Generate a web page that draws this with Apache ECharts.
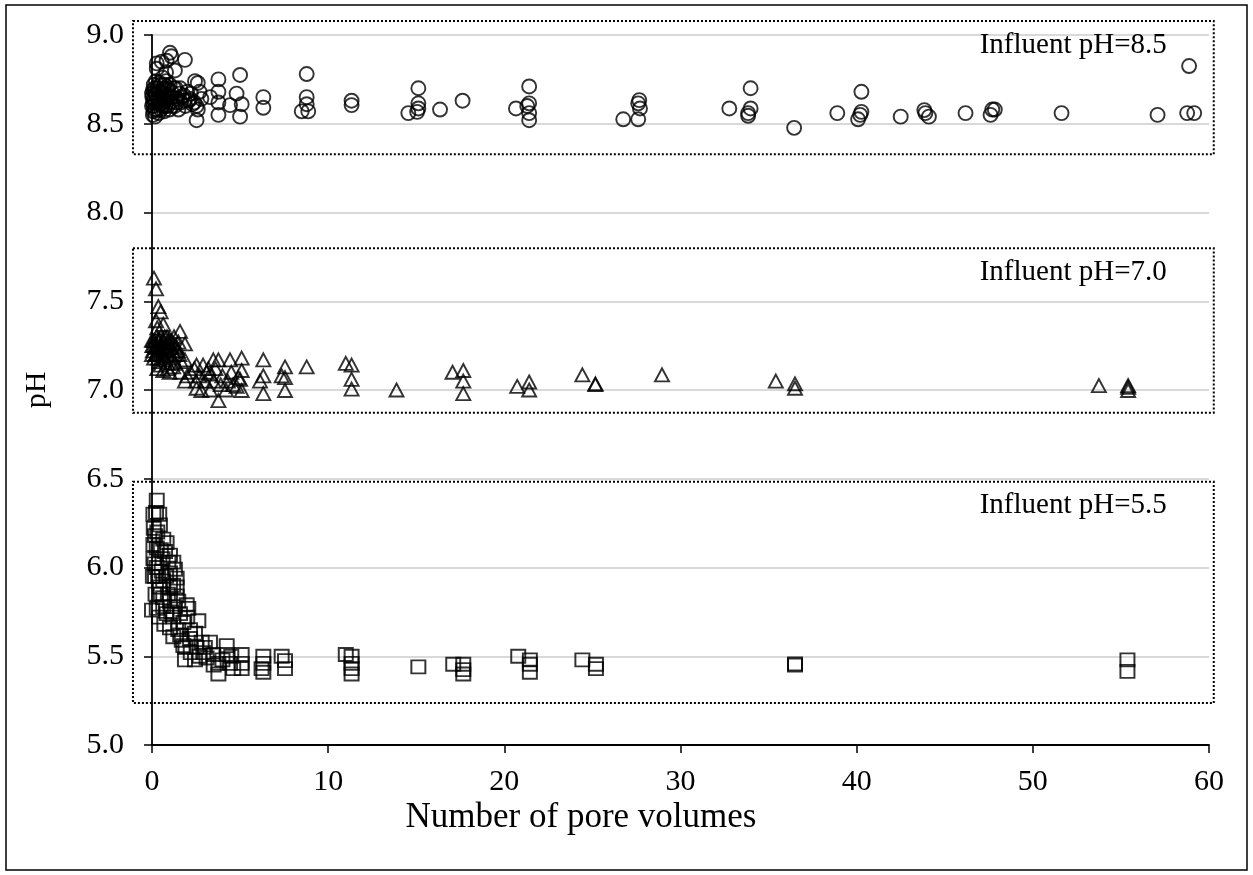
<!DOCTYPE html>
<html>
<head>
<meta charset="utf-8">
<script src="https://cdn.jsdelivr.net/npm/echarts@6/dist/echarts.min.js"></script>
<style>
  html, body { margin: 0; padding: 0; background: #fff; }
  #chart { width: 1253px; height: 875px; }
</style>
</head>
<body>
<div id="chart"></div>
<script>
// Effluent pH versus number of pore volumes, one series per influent pH.
const yTicks = ['5.0', '5.5', '6.0', '6.5', '7.0', '7.5', '8.0', '8.5', '9.0'];
const xTicks = ['0', '10', '20', '30', '40', '50', '60'];
const seriesNames = ['Influent pH=8.5', 'Influent pH=7.0', 'Influent pH=5.5'];

// [pore volumes, pH]
const influent85 = [
  [1.02, 8.90], [1.10, 8.88], [1.87, 8.86], [0.27, 8.84], [0.55, 8.85], [0.83, 8.855], [1.30, 8.80], [0.27, 8.81],
  [0.60, 8.76], [0.80, 8.79], [0.02, 8.65], [0.05, 8.69], [0.05, 8.55], [0.10, 8.60], [0.10, 8.64], [0.12, 8.68],
  [0.15, 8.70], [0.20, 8.62], [0.25, 8.66], [0.30, 8.58], [0.30, 8.70], [0.35, 8.64], [0.40, 8.68], [0.45, 8.61],
  [0.50, 8.72], [0.55, 8.65], [0.60, 8.60], [0.65, 8.70], [0.70, 8.67], [0.75, 8.63], [0.80, 8.74], [0.85, 8.69],
  [0.90, 8.60], [0.95, 8.66], [1.00, 8.72], [1.05, 8.62], [1.10, 8.68], [1.20, 8.65], [1.30, 8.60], [1.35, 8.70],
  [1.45, 8.64], [1.55, 8.67], [1.65, 8.62], [1.80, 8.66], [1.90, 8.60], [2.00, 8.68], [2.10, 8.63], [2.30, 8.61],
  [0.00, 8.60], [0.00, 8.67], [0.05, 8.62], [0.10, 8.72], [0.15, 8.58], [0.20, 8.67], [0.22, 8.74], [0.30, 8.63],
  [0.38, 8.56], [0.42, 8.73], [0.50, 8.58], [0.52, 8.68], [0.60, 8.64], [0.68, 8.57], [0.72, 8.72], [0.78, 8.60],
  [0.88, 8.64], [0.92, 8.70], [1.00, 8.58], [1.08, 8.65], [1.15, 8.60], [1.25, 8.70], [1.40, 8.62], [1.50, 8.58],
  [1.60, 8.70], [1.70, 8.65], [1.85, 8.63], [2.20, 8.67], [2.40, 8.62], [2.60, 8.58], [2.80, 8.64],
  [0.17, 8.54], [0.08, 8.57], [2.15, 8.64], [2.44, 8.74], [2.60, 8.73], [2.70, 8.68], [3.30, 8.65], [2.53, 8.60],
  [2.53, 8.52], [3.77, 8.75], [3.77, 8.68], [3.77, 8.62], [3.77, 8.55], [4.43, 8.605], [4.80, 8.67], [5.09, 8.61],
  [5.00, 8.54], [5.00, 8.775], [6.32, 8.65], [6.32, 8.59], [8.78, 8.78], [8.78, 8.65], [8.78, 8.61], [8.50, 8.57],
  [8.87, 8.57], [11.33, 8.63], [11.33, 8.605], [15.12, 8.70], [15.12, 8.615], [15.12, 8.586], [15.05, 8.567],
  [14.55, 8.56], [16.35, 8.58], [17.63, 8.63], [21.41, 8.71], [21.41, 8.615], [21.30, 8.60], [20.66, 8.586],
  [21.41, 8.56], [21.41, 8.52], [26.75, 8.525], [27.60, 8.525], [27.66, 8.633], [27.60, 8.615], [27.70, 8.586],
  [32.77, 8.586], [33.98, 8.70], [33.98, 8.586], [33.84, 8.56], [33.84, 8.545], [36.45, 8.477], [38.90, 8.56],
  [40.27, 8.68], [40.27, 8.567], [40.20, 8.55], [40.08, 8.525], [42.50, 8.54], [43.84, 8.577], [43.90, 8.56],
  [44.10, 8.54], [46.18, 8.56], [47.70, 8.58], [47.84, 8.58], [47.60, 8.55], [51.63, 8.56], [57.08, 8.55],
  [58.87, 8.825], [58.76, 8.56], [59.16, 8.56]
];

const influent70 = [
  [0.11, 7.63], [0.23, 7.57], [0.36, 7.47], [0.49, 7.44], [0.23, 7.39], [0.64, 7.37], [0.30, 7.35], [1.59, 7.33],
  [1.87, 7.26], [0.02, 7.25], [0.05, 7.22], [0.10, 7.25], [0.15, 7.28], [0.20, 7.20], [0.25, 7.30], [0.30, 7.24],
  [0.35, 7.18], [0.40, 7.27], [0.45, 7.22], [0.50, 7.30], [0.55, 7.25], [0.60, 7.20], [0.65, 7.28], [0.70, 7.23],
  [0.75, 7.17], [0.80, 7.26], [0.85, 7.30], [0.90, 7.21], [0.95, 7.27], [1.00, 7.24], [1.05, 7.19], [1.10, 7.28],
  [1.15, 7.22], [1.20, 7.26], [1.30, 7.20], [1.35, 7.25], [1.45, 7.22], [1.50, 7.27],
  [0.00, 7.20], [0.00, 7.28], [0.05, 7.28], [0.12, 7.18], [0.18, 7.24], [0.28, 7.21], [0.38, 7.29], [0.42, 7.16],
  [0.52, 7.23], [0.58, 7.27], [0.68, 7.19], [0.72, 7.30], [0.82, 7.22], [0.88, 7.15], [0.98, 7.29], [1.08, 7.24],
  [1.18, 7.18], [1.25, 7.30], [1.40, 7.24], [1.55, 7.20], [1.65, 7.16], [0.30, 7.12], [0.50, 7.14], [1.30, 7.15],
  [0.64, 7.11], [1.20, 7.13],
  [0.90, 7.12], [1.00, 7.10], [1.60, 7.10], [1.87, 7.17], [1.87, 7.05], [2.00, 7.08], [2.20, 7.10], [2.40, 7.12],
  [2.53, 7.14], [2.90, 7.14], [2.53, 7.01], [2.50, 7.05], [2.70, 7.08], [2.80, 6.997], [3.00, 7.05], [3.10, 7.10],
  [3.20, 7.12], [3.30, 7.09], [3.30, 7.00], [3.48, 7.17], [3.50, 7.05], [3.60, 7.12], [3.77, 7.17], [3.77, 6.94],
  [3.90, 7.03], [4.00, 7.08], [4.20, 7.00], [4.30, 7.05], [4.43, 7.17], [4.50, 7.10], [4.60, 7.03], [4.80, 7.02],
  [4.90, 7.07], [5.09, 7.18], [5.09, 7.11], [5.00, 7.06], [5.09, 6.997], [6.32, 7.17], [6.32, 7.08], [6.13, 7.05],
  [6.32, 6.98], [7.55, 7.13], [7.36, 7.08], [7.55, 7.07], [7.55, 6.997], [8.78, 7.13], [11.00, 7.15], [11.33, 7.14],
  [11.33, 7.06], [11.33, 7.005], [13.88, 7.00], [17.06, 7.10], [17.67, 7.11], [17.67, 7.05], [17.67, 6.98],
  [20.73, 7.02], [21.41, 7.045], [21.41, 7.00], [24.43, 7.085], [25.17, 7.035], [25.17, 7.03], [28.95, 7.085],
  [35.41, 7.05], [36.50, 7.035], [36.50, 7.01], [53.75, 7.025], [55.41, 7.025], [55.41, 7.015], [55.41, 6.997]
];

const influent55 = [
  [0.27, 6.38], [0.23, 6.31], [0.08, 6.30], [0.41, 6.30], [0.45, 6.24], [0.17, 6.18], [0.64, 6.16], [0.83, 6.14],
  [0.27, 6.11], [0.08, 6.13], [0.74, 6.09], [1.02, 6.07], [0.08, 6.05], [0.93, 6.03], [1.21, 6.03], [0.27, 6.00],
  [0.55, 5.98], [0.17, 5.95], [1.02, 5.97], [1.30, 5.99], [1.40, 5.94], [0.64, 5.925], [0.45, 5.89], [1.02, 5.89],
  [1.40, 5.89], [0.00, 5.76], [0.27, 5.77], [0.64, 5.78], [0.64, 5.83], [1.02, 5.81], [1.40, 5.84], [1.49, 5.81],
  [1.97, 5.79], [2.06, 5.77], [0.83, 5.74], [1.21, 5.72], [1.59, 5.74], [2.63, 5.70], [1.78, 5.69], [1.02, 5.66],
  [1.49, 5.65], [2.16, 5.65], [2.44, 5.63], [1.21, 5.61], [1.69, 5.59], [2.16, 5.60], [2.82, 5.58], [3.29, 5.58],
  [0.10, 6.22], [0.30, 6.20], [0.50, 6.10], [0.60, 6.05], [0.35, 5.95], [0.20, 5.85], [0.50, 5.85], [0.80, 5.95],
  [0.90, 5.85], [1.10, 5.75], [1.30, 5.78], [0.40, 5.72], [0.70, 5.68], [1.60, 5.62], [1.90, 5.55], [2.20, 5.52],
  [2.70, 5.50], [3.00, 5.55], [3.50, 5.45], [4.00, 5.48], [4.50, 5.50], [2.00, 5.72], [1.20, 5.90], [0.15, 6.02],
  [0.05, 5.95],
  [1.78, 5.56], [2.53, 5.55], [4.24, 5.56], [1.87, 5.48], [2.44, 5.48], [3.10, 5.49], [3.48, 5.51], [2.91, 5.52],
  [3.77, 5.46], [3.77, 5.40], [4.24, 5.51], [4.43, 5.46], [5.09, 5.51], [5.09, 5.46], [5.09, 5.43], [4.61, 5.43],
  [6.32, 5.50], [6.32, 5.46], [6.22, 5.43], [6.32, 5.41], [7.36, 5.50], [7.55, 5.475], [7.55, 5.43], [11.00, 5.51],
  [11.33, 5.50], [11.33, 5.46], [11.33, 5.43], [11.33, 5.40], [15.12, 5.44], [17.10, 5.455], [17.67, 5.455],
  [17.67, 5.425], [17.67, 5.40], [20.79, 5.50], [21.45, 5.48], [21.45, 5.455], [21.45, 5.41], [24.43, 5.48],
  [25.20, 5.455], [25.20, 5.43], [36.50, 5.457], [36.50, 5.45], [55.37, 5.48], [55.37, 5.415]
];

// Dotted frame around each group, in axis units: [xFrom, xTo, yFrom, yTo]
const groupFrames = [
  [-1.08, 60.27, 8.328, 9.079],
  [-1.08, 60.27, 6.872, 7.798],
  [-1.08, 60.27, 5.236, 6.483]
];

const serif = '"Liberation Serif", "Times New Roman", serif';
const chart = echarts.init(document.getElementById('chart'), null, { renderer: 'canvas' });

const markerStyle = {
  color: 'rgba(0,0,0,0)',
  borderColor: '#000',
  borderWidth: 1.9
};

function scatter(name, data, symbol, size) {
  return {
    name: name,
    type: 'scatter',
    data: data,
    symbol: symbol,
    symbolSize: size,
    itemStyle: markerStyle,
    emphasis: { disabled: true },
    clip: false,
    z: 5
  };
}

chart.setOption({
  animation: false,
  backgroundColor: '#fff',
  textStyle: { fontFamily: serif, color: '#000' },
  grid: { left: 152, right: 44, top: 35, bottom: 130, containLabel: false },
  xAxis: {
    type: 'value',
    min: 0, max: 60, interval: 10,
    axisLine: { onZero: false, lineStyle: { color: '#000', width: 1.8 } },
    axisTick: { show: true, inside: false, length: 8, lineStyle: { color: '#000', width: 1.5 } },
    axisLabel: {
      margin: 22, fontSize: 30, fontFamily: serif, color: '#000',
      formatter: (v) => xTicks[Math.round(v / 10)]
    },
    splitLine: { show: false }
  },
  yAxis: {
    type: 'value',
    min: 5, max: 9, interval: 0.5,
    name: 'pH',
    nameLocation: 'middle',
    nameGap: 100,
    nameRotate: 90,
    nameTextStyle: { fontSize: 30, fontFamily: serif, color: '#000' },
    axisLine: { show: true, onZero: false, lineStyle: { color: '#000', width: 1.8 } },
    axisTick: { show: true, inside: false, length: 8, lineStyle: { color: '#000', width: 1.5 } },
    axisLabel: {
      margin: 28, fontSize: 30, fontFamily: serif, color: '#000',
      formatter: (v) => yTicks[Math.round((v - 5) / 0.5)]
    },
    splitLine: { show: true, lineStyle: { color: '#d9d9d9', width: 2 } }
  },
  series: [
    scatter(seriesNames[0], influent85, 'circle', 14),
    scatter(seriesNames[1], influent70, 'triangle', [14, 13]),
    scatter(seriesNames[2], influent55, 'rect', [14, 13])
  ]
});

// Frames and labels placed through the grid's own coordinate conversion
const graphics = [
  {
    type: 'rect', z: 0, silent: true,
    shape: { x: 6, y: 5, width: 1241, height: 865 },
    style: { fill: 'none', stroke: '#000', lineWidth: 1.5 }
  },
  {
    type: 'text', z: 10, silent: true,
    style: {
      text: 'Number of pore volumes', x: 581, y: 818,
      fontSize: 35, fontFamily: serif, fill: '#000',
      align: 'center', verticalAlign: 'middle'
    }
  }
];

groupFrames.forEach((f, i) => {
  const p0 = chart.convertToPixel({ gridIndex: 0 }, [f[0], f[3]]);
  const p1 = chart.convertToPixel({ gridIndex: 0 }, [f[1], f[2]]);
  graphics.push({
    type: 'rect', z: 1, silent: true,
    shape: { x: p0[0], y: p0[1], width: p1[0] - p0[0], height: p1[1] - p0[1] },
    style: { fill: 'none', stroke: '#000', lineWidth: 2, lineDash: [2, 2] }
  });
  graphics.push({
    type: 'text', z: 10, silent: true,
    style: {
      text: seriesNames[i], x: p1[0] - 47, y: p0[1] + 24,
      fontSize: 29, fontFamily: serif, fill: '#000',
      align: 'right', verticalAlign: 'middle'
    }
  });
});

chart.setOption({ graphic: graphics });
</script>
</body>
</html>
